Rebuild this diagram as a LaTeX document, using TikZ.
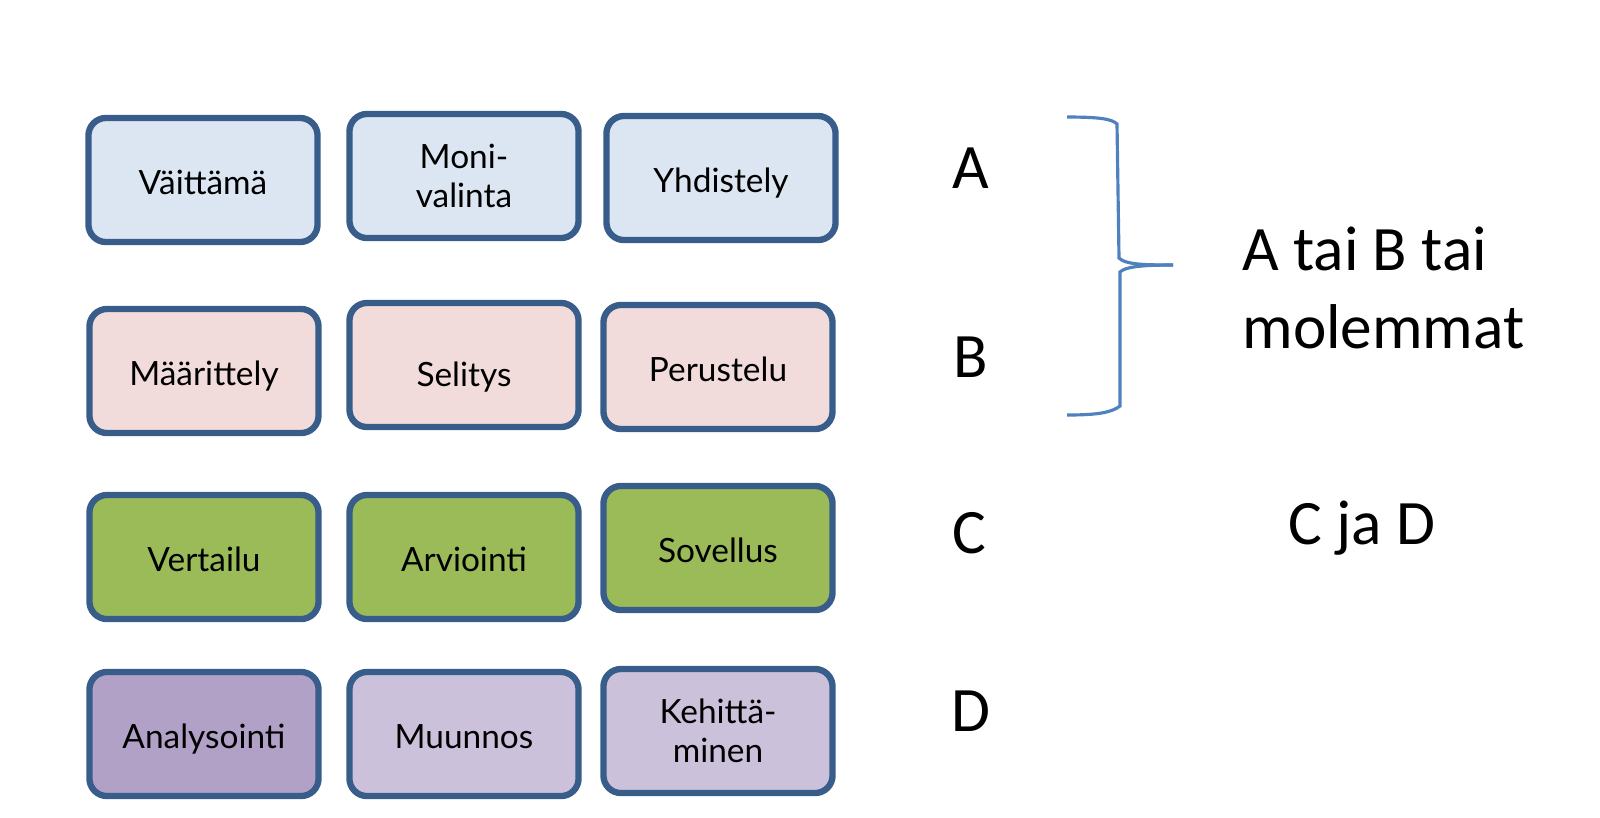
\documentclass[tikz,border=0pt]{standalone}
\usepackage{fontspec}
\setmainfont{Carlito}
\newfontfamily\boxfont{Lato}
\usetikzlibrary{positioning}
\definecolor{boxedge}{RGB}{56,93,138}
\definecolor{rowa}{RGB}{220,230,242}
\definecolor{rowb}{RGB}{242,220,219}
\definecolor{rowc}{RGB}{155,187,89}
\definecolor{rowd}{RGB}{204,193,218}
\definecolor{rowdd}{RGB}{178,161,199}
\definecolor{bracecol}{RGB}{79,129,189}

\begin{document}
\begin{tikzpicture}[x=0.01cm, y=-0.01cm,
    box/.style={draw=boxedge, line width=1.8pt, rounded corners=5pt,
                minimum width=2.29cm, minimum height=1.24cm, inner sep=2pt,
                font=\boxfont\fontsize{9.5}{11}\selectfont},
    one/.style={box, text height=8pt, text depth=0pt},
    two/.style={box, align=center},
    letter/.style={font=\fontsize{18}{22}\selectfont}
]
\useasboundingbox (0,0) rectangle (1600,817);
% rivi A
\node[one, fill=rowa] (vaittama) at (203,180) {Väittämä};
\node[two, fill=rowa] (monivalinta) at (464,176) {Moni-\\valinta};
\node[one, fill=rowa] (yhdistely) at (721,178) {Yhdistely};
% rivi B
\node[one, fill=rowb] (maarittely) at (204,371) {Määrittely};
\node[one, fill=rowb, text height=12pt] (selitys) at (464,365) {Selitys};
\node[one, fill=rowb] (perustelu) at (718,367) {Perustelu};
% rivi C
\node[one, fill=rowc] (vertailu) at (204,557) {Vertailu};
\node[one, fill=rowc] (arviointi) at (464,557) {Arviointi};
\node[one, fill=rowc] (sovellus) at (718,548) {Sovellus};
% rivi D
\node[one, fill=rowdd] (analysointi) at (204,734) {Analysointi};
\node[one, fill=rowd] (muunnos) at (464,734) {Muunnos};
\node[two, fill=rowd] (kehittaminen) at (718,731) {Kehittä-\\minen};
% kirjaimet
\node[letter] (A) at (971,168) {A};
\node[letter] (B) at (971,357) {B};
\node[letter] (C) at (969,533) {C};
\node[letter] (D) at (971,711) {D};
% aaltosulje
\coordinate (btop) at (1067,117);
\coordinate (bbot) at (1067,415);
\coordinate (btip) at (1173,265);
\draw[bracecol, line width=0.9pt] (btop) .. controls (1100,117) and (1112,119) .. (1117,124)
    -- (1119,258) .. controls (1125,264) and (1140,265) .. (btip);
\draw[bracecol, line width=0.9pt] (btip) .. controls (1140,265) and (1125,267) .. (1120,272)
    -- (1120,406) .. controls (1112,412) and (1100,415) .. (bbot);
\node[letter, anchor=west, align=left] (taiteksti) at (1230,288) {A tai B tai\\molemmat};
\node[letter] (cjad) at (1362,528) {C ja D};
\end{tikzpicture}
\end{document}
